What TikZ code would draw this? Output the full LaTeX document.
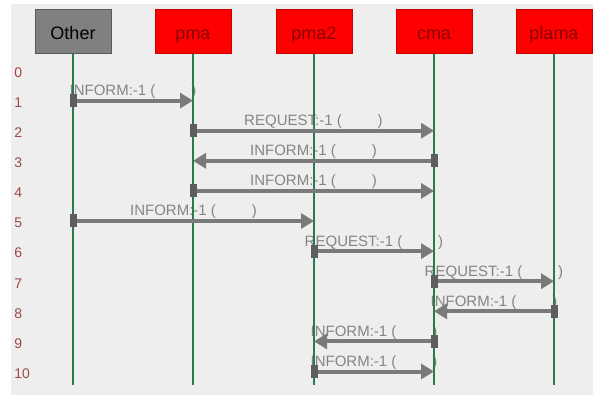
\documentclass[tikz,border=0pt]{standalone}
\usepackage{fontspec}
\setmainfont{Liberation Sans}
\usetikzlibrary{arrows.meta}
\definecolor{panel}{HTML}{EEEEEE}
\definecolor{life}{HTML}{2B7A4B}
\definecolor{msgc}{HTML}{7A7A7A}
\definecolor{msgdark}{HTML}{5E5E5E}
\definecolor{lblc}{HTML}{858585}
\definecolor{rownum}{HTML}{9E4848}
\definecolor{agentred}{HTML}{FF0000}
\definecolor{agentredborder}{HTML}{C80000}
\definecolor{agenttext}{HTML}{8A0000}
\definecolor{othergray}{HTML}{808080}
\definecolor{othergrayborder}{HTML}{5A5A5A}
\newcommand\informtext{INFORM:-1 (\hspace{27pt})}
\newcommand\requesttext{REQUEST:-1 (\hspace{27pt})}
\begin{document}
\begin{tikzpicture}[x=0.75pt,y=-0.75pt,
 agent/.style={draw=agentredborder, fill=agentred, line width=0.75pt, minimum width=57pt, minimum height=33pt, inner sep=0pt, text height=12pt, text depth=0pt, text=agenttext, font=\fontsize{13.5}{15}\selectfont},
 otheragent/.style={agent, draw=othergrayborder, fill=othergray, text=black},
 lifeline/.style={draw=life, line width=1.3pt},
 msgline/.style={draw=msgc, line width=3pt, -{Triangle[length=9.75pt,width=11.25pt]}},
 srcbox/.style={fill=msgdark, minimum width=5.25pt, minimum height=9.75pt, inner sep=0pt},
 msglabel/.style={text=lblc, font=\fontsize{11.25}{13}\selectfont, anchor=base, yshift=3.75pt, inner sep=0pt},
 rowlabel/.style={text=rownum, font=\fontsize{10.5}{12}\selectfont, anchor=west, inner sep=0pt}]
\useasboundingbox (0,0) rectangle (593,399);
\fill[white] (0,0) rectangle (593,399);
\fill[panel] (11,4) rectangle (593,395);
% agents
\node[otheragent] (Other) at (73,32) {Other};
\node[agent] (pma) at (193,32) {pma};
\node[agent] (pma2) at (314,32) {pma2};
\node[agent] (cma) at (434,32) {cma};
\node[agent] (plama) at (554,32) {plama};
% row coordinates
\foreach \n/\xx in {Other/73,pma/193,pma2/314,cma/434,plama/554}{
  \coordinate (\n-end) at (\xx,385);
  \foreach \k in {0,...,10}{
    \coordinate (\n-\k) at (\xx,{70.5+30.1*\k});
  }
}
% row numbers
\foreach \k in {0,...,10}{
  \node[rowlabel] (row\k) at (14,{72.5+30.1*\k}) {\k};
}
% message labels
\foreach \k/\a/\b/\t in {1/Other/pma/\informtext, 2/pma/cma/\requesttext, 3/cma/pma/\informtext, 4/pma/cma/\informtext, 5/Other/pma2/\informtext, 6/pma2/cma/\requesttext, 7/cma/plama/\requesttext, 8/plama/cma/\informtext, 9/cma/pma2/\informtext, 10/pma2/cma/\informtext}{
  \path (\a-\k) -- (\b-\k) node[msglabel, midway] (lab\k) {\t};
}
% lifelines
\foreach \n in {Other,pma,pma2,cma,plama}{
  \draw[lifeline] (\n.south) -- (\n-end);
}
% messages
\foreach \k/\a/\b in {1/Other/pma, 2/pma/cma, 3/cma/pma, 4/pma/cma, 5/Other/pma2, 6/pma2/cma, 7/cma/plama, 8/plama/cma, 9/cma/pma2, 10/pma2/cma}{
  \draw[msgline] (\a-\k) -- (\b-\k);
  \node[srcbox] (src\k) at (\a-\k) {};
}
\end{tikzpicture}
\end{document}
